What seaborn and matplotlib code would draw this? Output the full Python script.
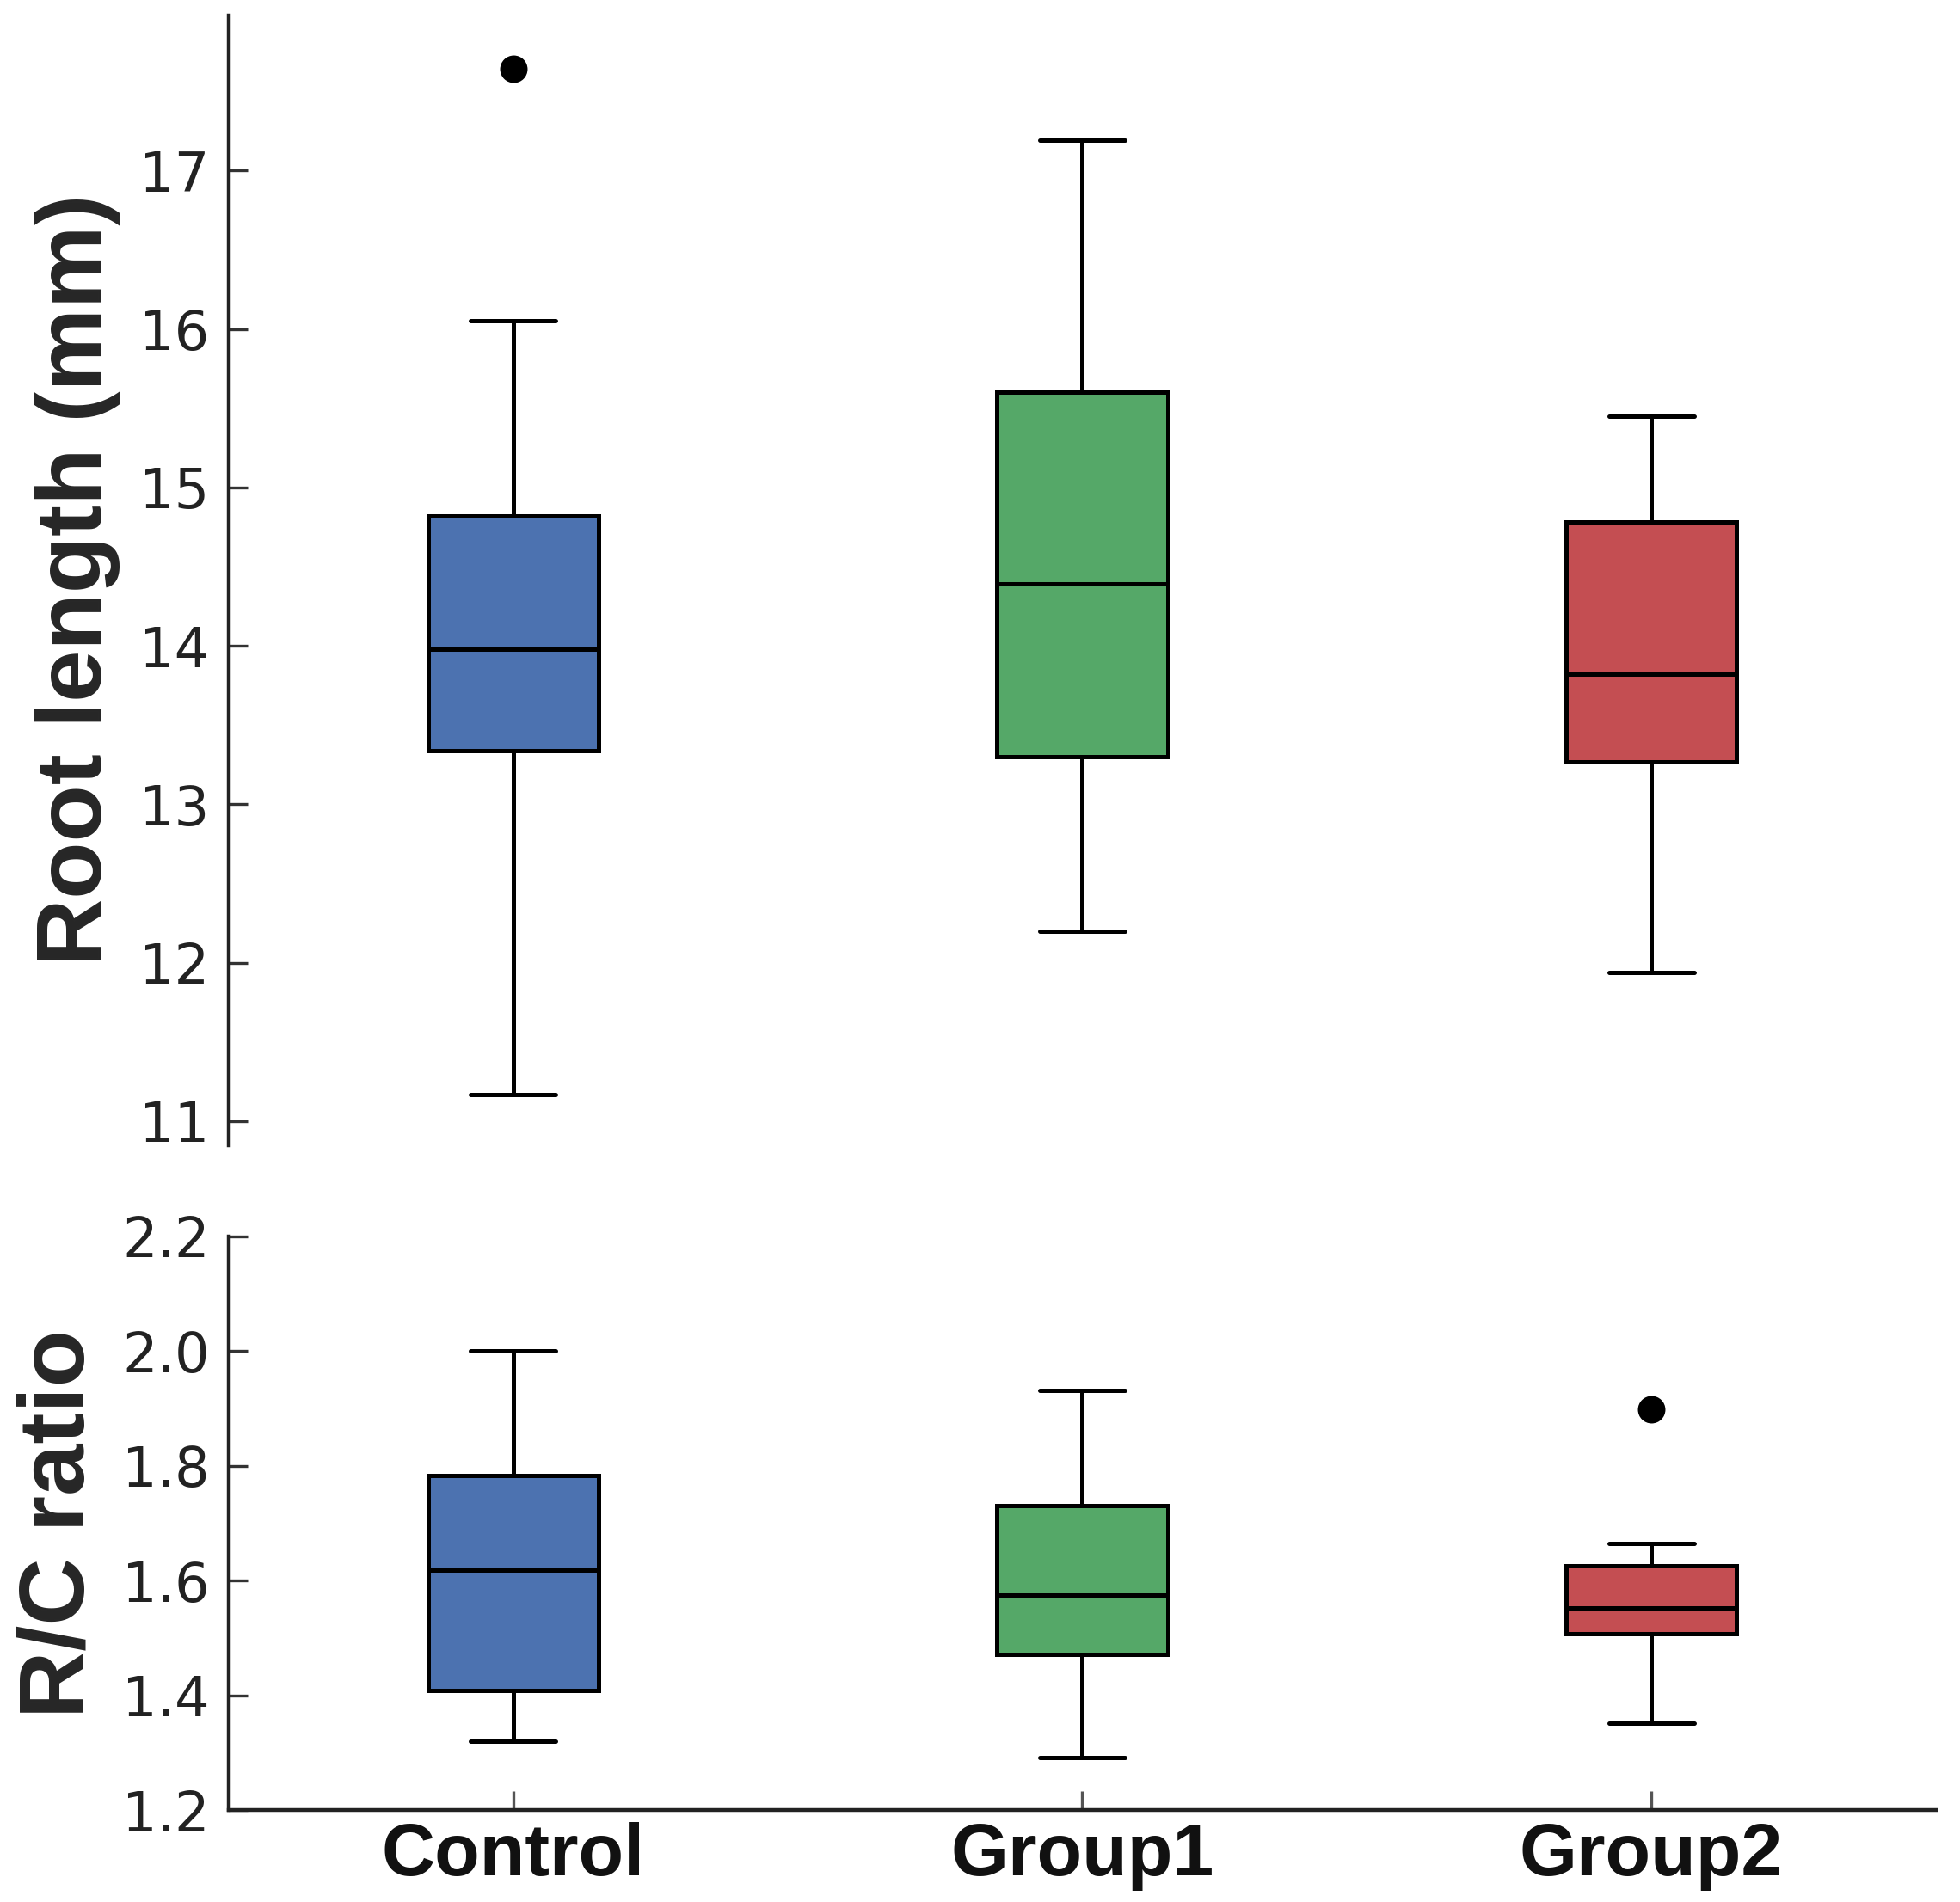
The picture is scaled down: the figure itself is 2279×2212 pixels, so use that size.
import pandas as pd
import matplotlib
matplotlib.use("Agg")
import matplotlib.pyplot as plt
import seaborn as sns

# ---------------------------
# Data
# ---------------------------
groups = ["Control", "Group1", "Group2"]
colors = ["#4C72B0", "#55A868", "#C44E52"]

# five-number summaries: whisker low, Q1, median, Q3, whisker high
root_control = [11.17, 13.34, 13.98, 14.82, 16.05]
root_group1 = [12.20, 13.30, 14.39, 15.60, 17.19]
root_group2 = [11.94, 13.27, 13.82, 14.78, 15.45]
root_outlier_groups = ["Control"]
root_outliers = [17.64]

ratio_control = [1.321, 1.409, 1.618, 1.784, 2.000]
ratio_group1 = [1.292, 1.471, 1.575, 1.731, 1.932]
ratio_group2 = [1.352, 1.507, 1.553, 1.626, 1.665]
ratio_outlier_groups = ["Group2"]
ratio_outliers = [1.899]

root_ticks = [11, 12, 13, 14, 15, 16, 17]
ratio_ticks = [1.2, 1.4, 1.6, 1.8, 2.0, 2.2]


def to_long(values_by_group):
    rows = []
    for g, vals in zip(groups, values_by_group):
        for v in vals:
            rows.append({"group": g, "value": v})
    return pd.DataFrame(rows)


df_root = to_long([root_control, root_group1, root_group2])
df_ratio = to_long([ratio_control, ratio_group1, ratio_group2])

# ---------------------------
# Plot
# ---------------------------
sns.set_theme(style="white")
plt.rcParams["font.family"] = ["DejaVu Sans"]

label_font = dict(family="Liberation Sans", weight="bold")

fig = plt.figure(figsize=(11.395, 11.06), dpi=200)
ax_top = fig.add_axes([0.1167, 0.398, 0.871, 0.594])
ax_bot = fig.add_axes([0.1167, 0.0482, 0.871, 0.3018])


def draw_panel(ax, df, out_groups, out_vals):
    sns.boxplot(data=df, x="group", y="value", hue="group", order=groups,
                hue_order=groups, palette=colors, saturation=1, width=0.3,
                whis=(0, 100), linecolor="black", linewidth=1.8,
                legend=False, ax=ax)
    sns.stripplot(x=out_groups, y=out_vals, order=groups, jitter=False,
                  color="black", size=11.5, linewidth=0, ax=ax)
    ax.set_xlim(-0.5, 2.5)
    ax.set_xlabel("")
    for s in ["top", "right"]:
        ax.spines[s].set_visible(False)
    ax.spines["left"].set_linewidth(1.6)
    ax.spines["left"].set_color("#222222")
    ax.tick_params(axis="y", left=True, direction="in", length=8, width=1.2,
                   color="#333333", labelsize=23, labelcolor="#222222", pad=8)


draw_panel(ax_top, df_root, root_outlier_groups, root_outliers)
ax_top.set_ylim(10.85, 17.98)
ax_top.set_yticks(root_ticks)
ax_top.set_xticks([])
ax_top.spines["bottom"].set_visible(False)
ax_top.set_ylabel("Root length (mm)", fontsize=39, labelpad=8, **label_font)

draw_panel(ax_bot, df_ratio, ratio_outlier_groups, ratio_outliers)
ax_bot.set_ylim(1.2, 2.2)
ax_bot.set_yticks(ratio_ticks)
ax_bot.set_yticklabels([f"{t:.1f}" for t in ratio_ticks])
ax_bot.spines["bottom"].set_linewidth(1.6)
ax_bot.spines["bottom"].set_color("#222222")
ax_bot.tick_params(axis="x", bottom=True, direction="in", length=8, width=1.2,
                   color="#555555", pad=5)
ax_bot.set_xticks(range(len(groups)))
ax_bot.set_xticklabels(groups, fontsize=31, color="#111111", **label_font)
ax_bot.set_ylabel("R/C ratio", fontsize=39, labelpad=8, **label_font)

fig.savefig("out.png", dpi=200, facecolor="white")
